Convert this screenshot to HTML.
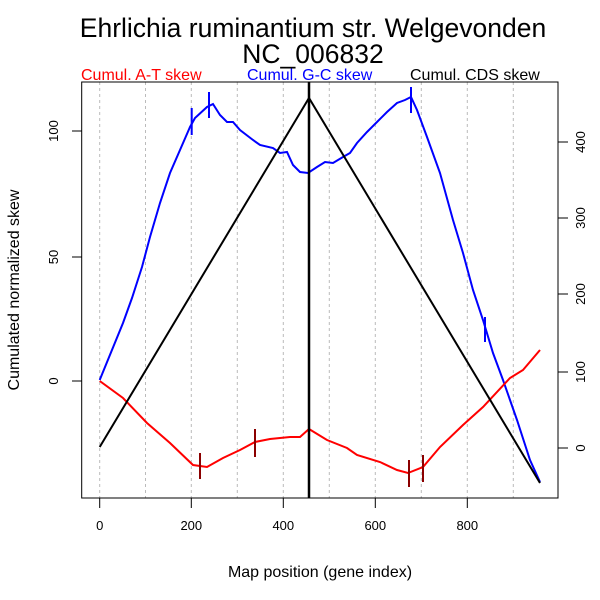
<!DOCTYPE html>
<html><head><style>body{margin:0;background:#fff}svg{display:block;font-family:"Liberation Sans",Arial,sans-serif}</style></head><body>
<svg width="600" height="600" viewBox="0 0 600 600">
<rect width="600" height="600" fill="#fff"/>
<text x="313" y="37" font-size="26.5" text-anchor="middle">Ehrlichia ruminantium str. Welgevonden</text>
<text x="313" y="63" font-size="26.5" text-anchor="middle">NC_006832</text>
<text x="81" y="80" font-size="16" fill="#f00">Cumul. A-T skew</text>
<text x="247" y="80" font-size="16" fill="#00f">Cumul. G-C skew</text>
<text x="410" y="80" font-size="16" fill="#000">Cumul. CDS skew</text>
<g stroke="#bbb" stroke-dasharray="3,3" stroke-width="1">
<line x1="99.7" y1="82" x2="99.7" y2="498"/><line x1="145.5" y1="82" x2="145.5" y2="498"/><line x1="191.3" y1="82" x2="191.3" y2="498"/><line x1="237.3" y1="82" x2="237.3" y2="498"/><line x1="283.3" y1="82" x2="283.3" y2="498"/><line x1="329.3" y1="82" x2="329.3" y2="498"/><line x1="375.3" y1="82" x2="375.3" y2="498"/><line x1="421.3" y1="82" x2="421.3" y2="498"/><line x1="467.3" y1="82" x2="467.3" y2="498"/><line x1="513.3" y1="82" x2="513.3" y2="498"/>
</g>
<rect x="81.7" y="82" width="476.3" height="416" fill="none" stroke="#000"/>
<g stroke="#000">
<line x1="99.7" y1="498" x2="99.7" y2="508"/><line x1="191.3" y1="498" x2="191.3" y2="508"/><line x1="283.3" y1="498" x2="283.3" y2="508"/><line x1="375.3" y1="498" x2="375.3" y2="508"/><line x1="467.3" y1="498" x2="467.3" y2="508"/>
<line x1="81.7" y1="131" x2="72" y2="131"/><line x1="81.7" y1="257" x2="72" y2="257"/><line x1="81.7" y1="381" x2="72" y2="381"/>
<line x1="558" y1="142" x2="568" y2="142"/><line x1="558" y1="218" x2="568" y2="218"/><line x1="558" y1="294" x2="568" y2="294"/><line x1="558" y1="372" x2="568" y2="372"/><line x1="558" y1="448" x2="568" y2="448"/>
</g>
<g font-size="13" text-anchor="middle">
<text x="99.7" y="530">0</text><text x="191.3" y="530">200</text><text x="283.3" y="530">400</text><text x="375.3" y="530">600</text><text x="467.3" y="530">800</text>
<text transform="translate(58,131) rotate(-90)">100</text><text transform="translate(58,257) rotate(-90)">50</text><text transform="translate(58,381) rotate(-90)">0</text>
<text transform="translate(585,142) rotate(-90)">400</text><text transform="translate(585,218) rotate(-90)">300</text><text transform="translate(585,294) rotate(-90)">200</text><text transform="translate(585,372) rotate(-90)">100</text><text transform="translate(585,448) rotate(-90)">0</text>
</g>
<text x="320" y="577" font-size="16" text-anchor="middle">Map position (gene index)</text>
<text transform="translate(19,290) rotate(-90)" font-size="16" text-anchor="middle">Cumulated normalized skew</text>
<polyline fill="none" stroke="#00f" stroke-width="2" points="99.7,380 123,323 132,298 142,267 150,237 160,203 170,173 180,150 190,127 195,118 207,107 213,104 220,115 227,122 233,122 240,130 253,140 260,145 273,148 280,153 287,152 293,165 300,172 308,173 317,167 325,162 333,163 343,157 350,153 357,143 367,132 377,122 387,112 397,103 405,100 411,97 417,110 427,137 440,173 453,220 463,253 473,290 483,320 493,353 503,380 517,420 530,460 540,482"/>
<g stroke="#00f" stroke-width="2"><line x1="191.7" y1="108" x2="191.7" y2="135"/><line x1="209" y1="92" x2="209" y2="118"/><line x1="411" y1="87" x2="411" y2="113"/><line x1="485" y1="317" x2="485" y2="342"/></g>
<polyline fill="none" stroke="#f00" stroke-width="2" points="99.7,381 123,398 147,423 170,443 193,465 207,467 223,458 240,450 255,442 270,439 290,437 300,437 309,429 327,440 347,448 357,455 380,462 397,470 408,473 423,467 440,447 463,425 483,407 510,378 523,370 540,350"/>
<g stroke="#8b0000" stroke-width="2"><line x1="200" y1="453" x2="200" y2="479"/><line x1="255" y1="429" x2="255" y2="457"/><line x1="409" y1="460" x2="409" y2="487"/><line x1="423" y1="455" x2="423" y2="482"/></g>
<polyline fill="none" stroke="#000" stroke-width="2" points="99.7,447 309,98 540,483"/>
<line x1="309" y1="82" x2="309" y2="498" stroke="#000" stroke-width="2.5"/>
</svg>
</body></html>
